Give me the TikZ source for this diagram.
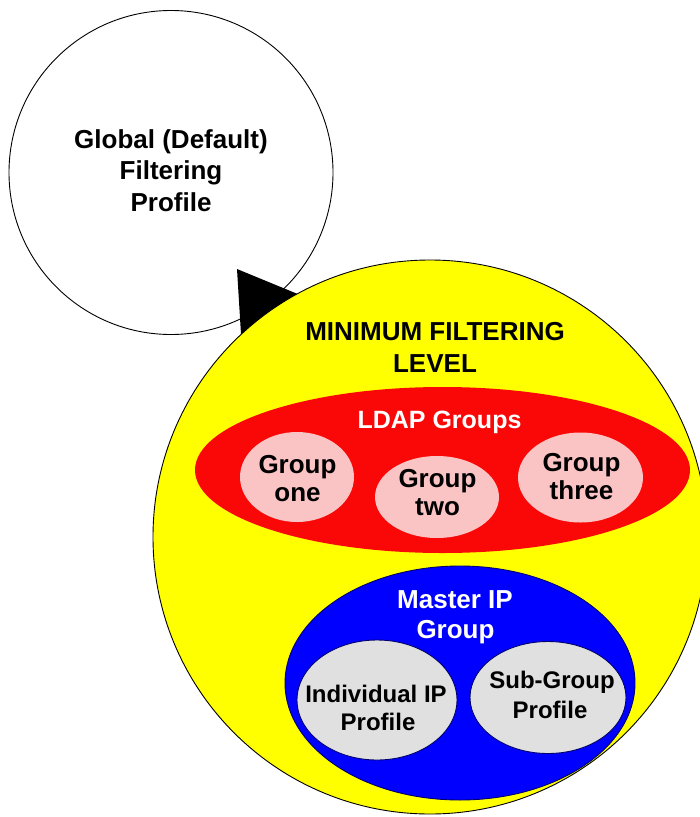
\documentclass[tikz,border=0pt]{standalone}
\usepackage{fontspec}
\setmainfont{Liberation Sans}
\usetikzlibrary{shapes.geometric}
\definecolor{yel}{RGB}{255,255,0}
\definecolor{redfill}{RGB}{250,8,8}
\definecolor{pinkfill}{RGB}{251,196,196}
\definecolor{bluefill}{RGB}{0,0,255}
\definecolor{grayfill}{RGB}{224,224,224}
\definecolor{navyline}{RGB}{0,0,110}
\begin{document}
\begin{tikzpicture}[x=1pt,y=-1pt,
  shapebox/.style={ellipse, inner sep=0pt, outer sep=0pt},
  outline/.style={draw=black, line width=0.9pt},
  bigtxt/.style={anchor=base, inner sep=0pt, font=\bfseries\fontsize{26}{30}\selectfont},
  midtxt/.style={anchor=base, inner sep=0pt, font=\bfseries\fontsize{25}{30}\selectfont},
  smalltxt/.style={anchor=base, inner sep=0pt, font=\bfseries\fontsize{24}{28}\selectfont}]
\useasboundingbox (0,0) rectangle (700,817);
% global profile circle
\node[circle, inner sep=0pt, outline, fill=white, minimum size=324pt] (global) at (171,172.5) {};
% arrowhead
\coordinate (tipA) at (237,269);
\coordinate (tipB) at (241,334);
\coordinate (tipC) at (305,297);
\fill[black] (tipA) -- (tipB) -- (tipC) -- cycle;
% minimum filtering level
\node[circle, inner sep=0pt, outline, fill=yel, minimum size=554pt] (minlevel) at (430,537) {};
% LDAP groups
\node[shapebox, fill=redfill, minimum width=495pt, minimum height=166pt] (ldap) at (442.5,470) {};
\node[shapebox, fill=pinkfill, minimum width=114pt, minimum height=90pt] (gone) at (297,477) {};
\node[shapebox, fill=pinkfill, minimum width=124pt, minimum height=82pt] (gtwo) at (437,497) {};
\node[shapebox, fill=pinkfill, minimum width=125pt, minimum height=90pt] (gthree) at (580.5,477.5) {};
% master IP group
\node[shapebox, draw=navyline, line width=0.9pt, fill=bluefill, minimum width=350pt, minimum height=234pt] (master) at (460,683) {};
\node[shapebox, draw=navyline, line width=0.9pt, fill=grayfill, minimum width=160pt, minimum height=120pt] (indiv) at (377,700) {};
\node[shapebox, draw=navyline, line width=0.9pt, fill=grayfill, minimum width=156pt, minimum height=112pt] (subgrp) at (548,697.5) {};
% texts
\node[bigtxt] (t1a) at (171,148) {Global (Default)};
\node[bigtxt] (t1b) at (171,179.5) {Filtering};
\node[bigtxt] (t1c) at (171,211) {Profile};
\node[bigtxt] (t2a) at (435,340) {MINIMUM FILTERING};
\node[bigtxt] (t2b) at (435,372) {LEVEL};
\node[midtxt, text=white] (t3) at (439.5,428) {LDAP Groups};
\node[bigtxt] (t4a) at (297.5,473) {Group};
\node[bigtxt] (t4b) at (297.5,501) {one};
\node[bigtxt] (t5a) at (437.5,487) {Group};
\node[bigtxt] (t5b) at (437.5,515) {two};
\node[bigtxt] (t6a) at (581.5,471) {Group};
\node[bigtxt] (t6b) at (581.5,499) {three};
\node[bigtxt, text=white] (t7a) at (455,608) {Master IP};
\node[bigtxt, text=white] (t7b) at (455.5,638) {Group};
\node[smalltxt] (t8a) at (376,702) {Individual IP};
\node[smalltxt] (t8b) at (378,730) {Profile};
\node[smalltxt] (t9a) at (552,688) {Sub-Group};
\node[smalltxt] (t9b) at (550,718) {Profile};
\end{tikzpicture}
\end{document}
